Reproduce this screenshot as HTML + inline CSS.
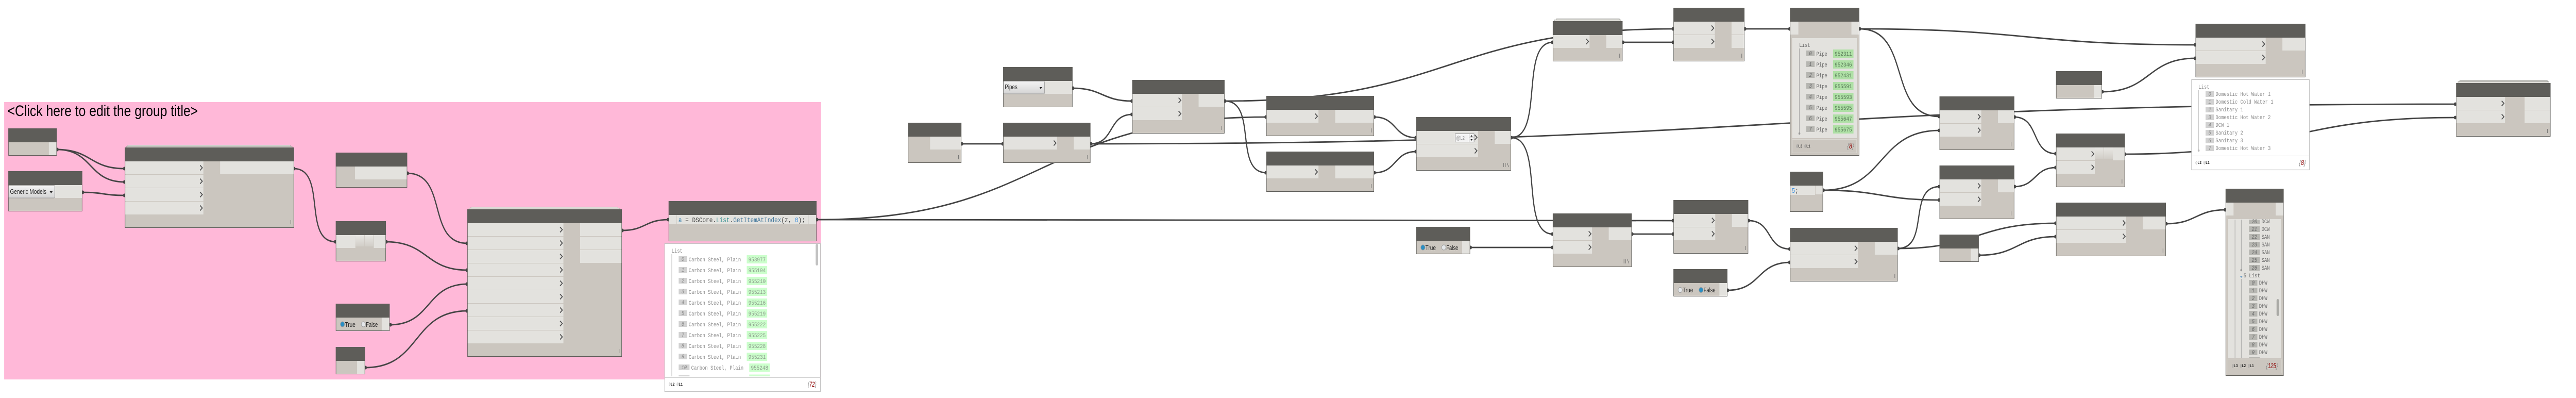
<!DOCTYPE html>
<html><head><meta charset="utf-8"><style>
html,body{margin:0;padding:0;background:#fff;width:100%;height:100%;overflow:hidden}
svg{display:block;width:100vw;height:100vh}
.h{fill:#5e5d59}.b{fill:#cbc6bf;stroke:#5e5d59;stroke-width:1}.l{fill:#e3e2de}
.s{fill:#dcdbd6;stroke:#a5a5a0;stroke-width:1}
.w path{fill:none;stroke:#444;stroke-width:2.8}
.d circle{fill:#444}
.bt{fill:url(#gb)}
text{font-family:"Liberation Sans",sans-serif}
.m{font-family:"Liberation Mono",monospace;font-size:11px;fill:#8a8a8a;white-space:pre}
.m2{font-family:"Liberation Mono",monospace;font-size:11px;fill:#6a6a6a;white-space:pre}
.i{font-family:"Liberation Mono",monospace;font-size:11px;font-style:italic;fill:#888;text-anchor:middle}
.i2{font-family:"Liberation Mono",monospace;font-size:11px;font-style:italic;fill:#666;text-anchor:middle}
.n{font-family:"Liberation Mono",monospace;font-size:11.5px;fill:#8a9a8a}
.n2{font-family:"Liberation Mono",monospace;font-size:11.5px;fill:#557755}
.ib{fill:#d2d2d2}.ib2{fill:#b6b6b1}.g{fill:#ccffcc}.g2{fill:#aee0a5}
.f{font-family:"Liberation Mono",monospace;font-size:8px;font-weight:bold;fill:#222}
.f tspan{fill:#999;font-weight:normal}
.c{font-size:14px;font-style:italic;fill:#888}.c tspan{fill:#8b0000}
.t{font-size:13px;fill:#222}
.code{font-family:"Liberation Mono",monospace;font-size:13.67px;fill:#444;white-space:pre}
</style></head><body>
<svg xmlns="http://www.w3.org/2000/svg" viewBox="0 0 6168 772" preserveAspectRatio="none">
<defs>
<path id="c" d="M-8 -5L-2.500 0L-8 5" fill="none" stroke="#555" stroke-width="2"/>
<path id="la" d="M0 0V8" fill="none" stroke="#666" stroke-width="1"/>
<path id="la3" d="M0 0V8M4 0V8M8 0L12 8" fill="none" stroke="#666" stroke-width="1"/>
<linearGradient id="gb" x1="0" y1="0" x2="0" y2="1"><stop offset="0" stop-color="#e8e7e3"/><stop offset="1" stop-color="#d2cec8"/></linearGradient>
<linearGradient id="gd" x1="0" y1="0" x2="0" y2="1"><stop offset="0" stop-color="#f4f4f4"/><stop offset="1" stop-color="#d4d4d4"/></linearGradient>
</defs>
<rect width="6168" height="772" fill="#fff"/>
<rect x="10" y="198" width="1956" height="538" fill="#ffb8d8"/>
<text x="18" y="225" font-size="30" textLength="456" lengthAdjust="spacingAndGlyphs" fill="#000">&lt;Click here to edit the group title&gt;</text>

<g class="w">
<path d="M136 290C219 290 215 327 298 327"/>
<path d="M136 290C223 290 211 353 298 353"/>
<path d="M197 373C247 373 248 379 298 379"/>
<path d="M703 327C784 327 723 469 804 469"/>
<path d="M975 336C1074 336 1020 472 1119 472"/>
<path d="M924 469C1025 469 1018 524 1119 524"/>
<path d="M934 630C1034 630 1019 551 1119 551"/>
<path d="M875 713C1009 713 985 603 1119 603"/>
<path d="M1489 447C1546 447 1544 426 1601 426"/>
<path d="M1956 426C2503 426 2485 227 3032 227"/>
<path d="M1956 426C2981 426 2982 428 4007 428"/>
<path d="M2302 279H2402"/>
<path d="M2568 171C2640 171 2639 196 2711 196"/>
<path d="M2611 279C2669 279 2653 222 2711 222"/>
<path d="M2611 279C4246 279 4245 202 5880 202"/>
<path d="M2933 196C3475 196 3465 56 4007 56"/>
<path d="M2933 196C3012 196 2953 335 3032 335"/>
<path d="M3291 227C3345 227 3337 267 3391 267"/>
<path d="M3291 335C3345 335 3337 294 3391 294"/>
<path d="M3618 267C3698 267 3638 82 3718 82"/>
<path d="M3618 267C3698 267 3638 454 3718 454"/>
<path d="M3885 82H4007"/>
<path d="M4177 56H4286"/>
<path d="M3521 480H3718"/>
<path d="M3907 454H4007"/>
<path d="M4187 428C4244 428 4229 483 4286 483"/>
<path d="M4137 563C4216 563 4207 509 4286 509"/>
<path d="M4452 56C4855 56 4854 87 5257 87"/>
<path d="M4452 56C4580 56 4516 226 4644 226"/>
<path d="M4365 369C4516 369 4493 253 4644 253"/>
<path d="M4365 369C4505 369 4504 388 4644 388"/>
<path d="M4544 482C4622 482 4566 362 4644 362"/>
<path d="M4544 482C4735 482 4732 433 4923 433"/>
<path d="M4823 227C4884 227 4862 298 4923 298"/>
<path d="M4823 362C4876 362 4870 325 4923 325"/>
<path d="M4739 495C4833 495 4829 459 4923 459"/>
<path d="M5034 178C5150 178 5141 113 5257 113"/>
<path d="M5088 299C5486 299 5482 228 5880 228"/>
<path d="M5187 434C5259 434 5257 407 5329 407"/>
</g>
<g class="d">
<circle cx="137" cy="290" r="3.5"/><circle cx="298" cy="327" r="3.5"/><circle cx="298" cy="353" r="3.5"/><circle cx="198" cy="373" r="3.5"/><circle cx="298" cy="379" r="3.500"/><circle cx="704" cy="327" r="3.5"/>
<circle cx="803" cy="469" r="3.5"/><circle cx="925" cy="469" r="3.5"/><circle cx="976" cy="336" r="3.5"/><circle cx="1118" cy="472" r="3.5"/><circle cx="1118" cy="524" r="3.5"/><circle cx="1118" cy="551" r="3.5"/><circle cx="1118" cy="603" r="3.5"/><circle cx="935" cy="630" r="3.5"/><circle cx="875" cy="713" r="3.5"/><circle cx="1490" cy="447" r="3.5"/><circle cx="1600" cy="426" r="3.5"/><circle cx="1956" cy="426" r="3.5"/>
<circle cx="2303" cy="279" r="3.5"/><circle cx="2401" cy="279" r="3.5"/><circle cx="2569" cy="171" r="3.5"/><circle cx="2710" cy="196" r="3.5"/><circle cx="2710" cy="222" r="3.5"/><circle cx="2612" cy="279" r="3.5"/><circle cx="2933" cy="196" r="3.5"/><circle cx="3031" cy="227" r="3.5"/><circle cx="3031" cy="335" r="3.5"/><circle cx="3291" cy="227" r="3.5"/><circle cx="3291" cy="335" r="3.5"/><circle cx="3390" cy="267" r="3.5"/><circle cx="3390" cy="294" r="3.5"/><circle cx="3619" cy="267" r="3.5"/><circle cx="3717" cy="82" r="3.5"/><circle cx="3717" cy="454" r="3.5"/><circle cx="3717" cy="480" r="3.5"/><circle cx="3521" cy="480" r="3.5"/><circle cx="3886" cy="82" r="3.5"/><circle cx="4006" cy="56" r="3.5"/><circle cx="4006" cy="82" r="3.5"/><circle cx="4178" cy="56" r="3.5"/><circle cx="3908" cy="454" r="3.5"/><circle cx="4006" cy="428" r="3.5"/><circle cx="4006" cy="454" r="3.5"/><circle cx="4187" cy="428" r="3.5"/><circle cx="4137" cy="563" r="3.5"/><circle cx="4285" cy="56" r="3.5"/><circle cx="4285" cy="483" r="3.5"/><circle cx="4285" cy="509" r="3.5"/><circle cx="4453" cy="56" r="3.5"/><circle cx="4366" cy="369" r="3.5"/><circle cx="4545" cy="482" r="3.5"/><circle cx="4643" cy="226" r="3.5"/><circle cx="4643" cy="253" r="3.5"/><circle cx="4643" cy="362" r="3.5"/><circle cx="4643" cy="388" r="3.5"/><circle cx="4824" cy="227" r="3.5"/><circle cx="4824" cy="362" r="3.5"/><circle cx="4739" cy="495" r="3.5"/><circle cx="4922" cy="298" r="3.5"/><circle cx="4922" cy="325" r="3.5"/><circle cx="4922" cy="433" r="3.5"/><circle cx="4922" cy="459" r="3.5"/><circle cx="5034" cy="178" r="3.5"/><circle cx="5088" cy="299" r="3.5"/><circle cx="5187" cy="434" r="3.5"/><circle cx="5256" cy="87" r="3.5"/><circle cx="5256" cy="113" r="3.5"/><circle cx="5328" cy="407" r="3.5"/><circle cx="5879" cy="202" r="3.5"/><circle cx="5879" cy="228" r="3.5"/>
</g>

<!-- A -->
<rect class="b" x="20.5" y="249.500" width="115" height="52"/><rect class="h" x="20" y="249" width="116" height="27"/><rect class="l" x="117" y="276" width="18" height="25"/>
<!-- B -->
<rect class="b" x="20.5" y="332.500" width="176" height="77"/><rect class="h" x="20" y="332" width="177" height="27"/><rect class="l" x="131" y="359" width="65" height="25"/>
<rect x="21" y="360" width="110" height="24" rx="2" fill="url(#gd)" stroke="#999"/><text x="24" y="376" class="t" textLength="87" lengthAdjust="spacingAndGlyphs">Generic Models</text><path d="M119 371h7l-3.500 4z" fill="#222"/>
<!-- C -->
<rect class="s" x="306" y="281.500" width="389" height="6"/><rect class="s" x="302.500" y="284" width="397" height="4"/>
<rect class="b" x="299.500" y="286.500" width="404" height="155"/><rect class="h" x="299" y="286" width="405" height="27"/>
<rect class="l" x="300" y="313" width="187" height="25"/><rect class="l" x="300" y="339" width="187" height="25"/><rect class="l" x="300" y="365" width="187" height="25"/><rect class="l" x="300" y="391" width="187" height="25"/><rect class="l" x="527" y="313" width="176" height="25"/>
<use href="#c" x="487" y="325.500"/><use href="#c" x="487" y="351.500"/><use href="#c" x="487" y="377.500"/><use href="#c" x="487" y="403.500"/><use href="#la" x="696.500" y="427"/>
<!-- N4 -->
<rect class="b" x="804.500" y="429.500" width="119" height="77"/><rect class="h" x="804" y="429" width="120" height="27"/><rect class="l" x="805" y="456" width="46" height="25"/><rect class="bt" x="851" y="456" width="21.500" height="22"/><rect class="bt" x="873.500" y="456" width="20.500" height="22"/><rect class="l" x="895" y="456" width="28" height="25"/>
<!-- N6 -->
<rect class="b" x="804.500" y="296.500" width="170" height="67"/><rect class="h" x="804" y="296" width="171" height="27"/><rect class="l" x="850" y="323" width="124" height="25"/>
<!-- N7 -->
<rect class="b" x="804.500" y="589.500" width="128" height="52"/><rect class="h" x="804" y="589" width="129" height="27"/><rect class="l" x="914" y="616" width="18" height="25"/>
<circle cx="820" cy="629" r="5" fill="#2a8fc4" stroke="#999"/><text x="826" y="634" class="t" textLength="25" lengthAdjust="spacingAndGlyphs">True</text><circle cx="870" cy="629" r="5" fill="#e4e7ea" stroke="#999"/><text x="876" y="634" class="t" textLength="28.500" lengthAdjust="spacingAndGlyphs">False</text>
<!-- N8 -->
<rect class="b" x="804.500" y="673.500" width="69" height="52"/><rect class="h" x="804" y="673" width="70" height="27"/><rect class="l" x="855" y="700" width="18" height="25"/>
<!-- N5 -->
<rect class="s" x="1127.500" y="401.500" width="352" height="6"/><rect class="s" x="1123" y="403.500" width="361" height="4"/>
<rect class="b" x="1119.500" y="406.500" width="369" height="285"/><rect class="h" x="1119" y="406" width="370" height="27"/>
<rect class="l" x="1120" y="433" width="229" height="25"/><rect class="l" x="1120" y="459" width="229" height="25"/><rect class="l" x="1120" y="485" width="229" height="25"/><rect class="l" x="1120" y="511" width="229" height="25"/><rect class="l" x="1120" y="537" width="229" height="25"/><rect class="l" x="1120" y="563" width="229" height="25"/><rect class="l" x="1120" y="589" width="229" height="25"/><rect class="l" x="1120" y="615" width="229" height="25"/><rect class="l" x="1120" y="641" width="229" height="25"/>
<rect class="l" x="1389" y="433" width="99" height="25"/><rect class="l" x="1389" y="459" width="99" height="25"/><rect class="l" x="1389" y="485" width="99" height="25"/>
<use href="#c" x="1349" y="445.500"/><use href="#c" x="1349" y="471.500"/><use href="#c" x="1349" y="497.500"/><use href="#c" x="1349" y="523.500"/><use href="#c" x="1349" y="549.500"/><use href="#c" x="1349" y="575.500"/><use href="#c" x="1349" y="601.500"/><use href="#c" x="1349" y="627.500"/><use href="#c" x="1349" y="653.500"/><use href="#la" x="1482.500" y="677"/>
<!-- H code block -->
<rect class="b" x="1601.500" y="390.500" width="353" height="77"/><rect class="h" x="1601" y="390" width="354" height="27"/><rect class="l" x="1602" y="417" width="352" height="18"/><path d="M1620.500 417V435M1935.500 417V435" stroke="#c8c5be" fill="none"/>
<text x="1624.500" y="431" class="code"><tspan fill="#2b7bac">a</tspan> = DSCore.<tspan fill="#2a8c8c">List</tspan>.<tspan fill="#44789c">GetItemAtIndex</tspan>(z, <tspan fill="#3a8fe0">0</tspan>);</text>
<!-- H preview -->
<rect x="1591.500" y="472.500" width="373" height="287" fill="#fff" stroke="#c4c4c4" stroke-width="1.2"/>
<path d="M1591.500 732.500H1964.500" stroke="#ccc"/>
<rect x="1953" y="473" width="6" height="42" rx="3" fill="#c2c2c2"/>
<text class="m" x="1608" y="490">List</text><path d="M1608.500 493V730" stroke="#bbb"/>
<rect class="ib" x="1625" y="497" width="20" height="11"/><text class="i" x="1635" y="506">0</text><text class="m" x="1649" y="507">Carbon Steel, Plain</text><rect class="g" x="1788" y="495" width="49" height="16"/><text class="n" x="1792" y="507">953977</text>
<rect class="ib" x="1625" y="518" width="20" height="11"/><text class="i" x="1635" y="527">1</text><text class="m" x="1649" y="528">Carbon Steel, Plain</text><rect class="g" x="1788" y="516" width="49" height="16"/><text class="n" x="1792" y="528">955194</text>
<rect class="ib" x="1625" y="539" width="20" height="11"/><text class="i" x="1635" y="548">2</text><text class="m" x="1649" y="549">Carbon Steel, Plain</text><rect class="g" x="1788" y="537" width="49" height="16"/><text class="n" x="1792" y="549">955210</text>
<rect class="ib" x="1625" y="560" width="20" height="11"/><text class="i" x="1635" y="569">3</text><text class="m" x="1649" y="570">Carbon Steel, Plain</text><rect class="g" x="1788" y="558" width="49" height="16"/><text class="n" x="1792" y="570">955213</text>
<rect class="ib" x="1625" y="581" width="20" height="11"/><text class="i" x="1635" y="590">4</text><text class="m" x="1649" y="591">Carbon Steel, Plain</text><rect class="g" x="1788" y="579" width="49" height="16"/><text class="n" x="1792" y="591">955216</text>
<rect class="ib" x="1625" y="602" width="20" height="11"/><text class="i" x="1635" y="611">5</text><text class="m" x="1649" y="612">Carbon Steel, Plain</text><rect class="g" x="1788" y="600" width="49" height="16"/><text class="n" x="1792" y="612">955219</text>
<rect class="ib" x="1625" y="623" width="20" height="11"/><text class="i" x="1635" y="632">6</text><text class="m" x="1649" y="633">Carbon Steel, Plain</text><rect class="g" x="1788" y="621" width="49" height="16"/><text class="n" x="1792" y="633">955222</text>
<rect class="ib" x="1625" y="644" width="20" height="11"/><text class="i" x="1635" y="653">7</text><text class="m" x="1649" y="654">Carbon Steel, Plain</text><rect class="g" x="1788" y="642" width="49" height="16"/><text class="n" x="1792" y="654">955225</text>
<rect class="ib" x="1625" y="665" width="20" height="11"/><text class="i" x="1635" y="674">8</text><text class="m" x="1649" y="675">Carbon Steel, Plain</text><rect class="g" x="1788" y="663" width="49" height="16"/><text class="n" x="1792" y="675">955228</text>
<rect class="ib" x="1625" y="686" width="20" height="11"/><text class="i" x="1635" y="695">9</text><text class="m" x="1649" y="696">Carbon Steel, Plain</text><rect class="g" x="1788" y="684" width="49" height="16"/><text class="n" x="1792" y="696">955231</text>
<rect class="ib" x="1625" y="707" width="26" height="11"/><text class="i" x="1638" y="716">10</text><text class="m" x="1655" y="717">Carbon Steel, Plain</text><rect class="g" x="1794" y="705" width="49" height="16"/><text class="n" x="1798" y="717">955248</text>
<rect class="ib" x="1625" y="728" width="26" height="2"/><rect class="g" x="1794" y="726.500" width="49" height="3.500"/>
<text class="f" x="1601" y="748"><tspan>@</tspan>L2 <tspan>@</tspan>L1</text>
<text class="c" x="1934" y="750" textLength="21" lengthAdjust="spacingAndGlyphs">{<tspan>72</tspan>}</text>
<!-- V -->
<rect class="b" x="2174.500" y="238.500" width="127" height="77"/><rect class="h" x="2174" y="238" width="128" height="27"/><rect class="l" x="2227" y="265" width="74" height="25"/><use href="#la" x="2295" y="301"/>
<!-- Pipes -->
<rect class="b" x="2402.500" y="130.500" width="165" height="77"/><rect class="h" x="2402" y="130" width="166" height="27"/><rect class="l" x="2501" y="157" width="66" height="25"/>
<rect x="2403" y="157.500" width="98" height="24.500" rx="2" fill="url(#gd)" stroke="#999"/><text x="2406" y="173" class="t" textLength="30" lengthAdjust="spacingAndGlyphs">Pipes</text><path d="M2489 169h6l-3 4z" fill="#222"/>
<!-- R -->
<rect class="b" x="2402.500" y="238.500" width="208" height="77"/><rect class="h" x="2402" y="238" width="209" height="27"/><rect class="l" x="2403" y="265" width="128" height="25"/><rect class="l" x="2571" y="265" width="39" height="25"/><use href="#c" x="2531" y="277.500"/><use href="#la" x="2604" y="301"/>
<!-- M -->
<rect class="b" x="2711.500" y="155.500" width="220" height="103"/><rect class="h" x="2711" y="155" width="221" height="27"/><rect class="l" x="2712" y="182" width="118" height="25"/><rect class="l" x="2712" y="208" width="118" height="25"/><rect class="l" x="2870" y="182" width="61" height="25"/><use href="#c" x="2830" y="194.500"/><use href="#c" x="2830" y="220.500"/><use href="#la" x="2925" y="244"/>
<!-- P -->
<rect class="b" x="3032.500" y="186.500" width="257" height="77"/><rect class="h" x="3032" y="186" width="258" height="27"/><rect class="l" x="3033" y="213" width="124" height="25"/><rect class="l" x="3197" y="213" width="92" height="25"/><use href="#c" x="3157" y="225.500"/><use href="#la" x="3283.500" y="249"/>
<!-- Q -->
<rect class="b" x="3032.500" y="294.500" width="257" height="77"/><rect class="h" x="3032" y="294" width="258" height="27"/><rect class="l" x="3033" y="321" width="124" height="25"/><rect class="l" x="3197" y="321" width="92" height="25"/><use href="#c" x="3157" y="333.500"/><use href="#la" x="3283.500" y="357"/>
<!-- S -->
<rect class="b" x="3391.500" y="227.500" width="226" height="103"/><rect class="h" x="3391" y="227" width="227" height="27"/><rect class="l" x="3392" y="254" width="147" height="25"/><rect class="l" x="3392" y="280" width="147" height="25"/><rect class="l" x="3579" y="254" width="38" height="25"/>
<rect x="3484.500" y="259.500" width="45" height="16" fill="#f2f2f2" stroke="#888"/><text x="3487" y="271" font-size="10" fill="#888" textLength="20" lengthAdjust="spacingAndGlyphs">@L2</text><path d="M3517.500 259.500V275.500M3517.500 267.500H3529.500" stroke="#888" fill="none"/><path d="M3521 265h5l-2.500-3zM3521 270h5l-2.500 3z" fill="#222"/>
<use href="#c" x="3539" y="266.500"/><use href="#c" x="3539" y="292.500"/><use href="#la3" x="3600.500" y="316"/>
<!-- BB -->
<rect class="b" x="3391.500" y="440.500" width="128" height="52"/><rect class="h" x="3391" y="440" width="129" height="27"/><rect class="l" x="3501" y="467" width="18" height="25"/>
<circle cx="3407" cy="480" r="5" fill="#2a8fc4" stroke="#999"/><text x="3413" y="485" class="t" textLength="25" lengthAdjust="spacingAndGlyphs">True</text><circle cx="3457" cy="480" r="5" fill="#e4e7ea" stroke="#999"/><text x="3463" y="485" class="t" textLength="28.500" lengthAdjust="spacingAndGlyphs">False</text>
<!-- T1 -->
<rect class="s" x="3726.500" y="36.500" width="151" height="6"/><rect class="s" x="3722" y="38.500" width="159" height="4"/>
<rect class="b" x="3718.500" y="41.500" width="166" height="77"/><rect class="h" x="3718" y="41" width="167" height="27"/><rect class="l" x="3719" y="68" width="87" height="25"/><rect class="l" x="3846" y="68" width="38" height="25"/><use href="#c" x="3806" y="80.500"/><use href="#la" x="3877.500" y="104"/>
<!-- W -->
<rect class="b" x="3718.500" y="414.500" width="188" height="103"/><rect class="h" x="3718" y="414" width="189" height="27"/><rect class="l" x="3719" y="441" width="93" height="25"/><rect class="l" x="3719" y="467" width="93" height="25"/><rect class="l" x="3852" y="441" width="54" height="25"/><use href="#c" x="3812" y="453.500"/><use href="#c" x="3812" y="479.500"/><use href="#la3" x="3888.500" y="503"/>
<!-- K -->
<rect class="b" x="4007.500" y="15.500" width="169" height="103"/><rect class="h" x="4007" y="15" width="170" height="27"/><rect class="l" x="4008" y="42" width="98" height="25"/><rect class="l" x="4008" y="68" width="98" height="25"/><rect class="l" x="4146" y="42" width="30" height="25"/><rect class="l" x="4146" y="68" width="30" height="25"/><use href="#c" x="4106" y="54.500"/><use href="#c" x="4106" y="80.500"/><use href="#la" x="4170.500" y="104"/>
<!-- BA -->
<rect class="b" x="4007.500" y="388.500" width="178" height="103"/><rect class="h" x="4007" y="388" width="179" height="27"/><rect class="l" x="4008" y="415" width="99" height="25"/><rect class="l" x="4008" y="441" width="99" height="25"/><rect class="l" x="4147" y="415" width="38" height="25"/><use href="#c" x="4107" y="427.500"/><use href="#c" x="4107" y="453.500"/><use href="#la" x="4179.500" y="477"/>
<!-- BC -->
<rect class="b" x="4007.500" y="522.500" width="128" height="52"/><rect class="h" x="4007" y="522" width="129" height="27"/><rect class="l" x="4117" y="549" width="18" height="25"/>
<circle cx="4023" cy="562.500" r="5" fill="#e4e7ea" stroke="#999"/><text x="4029" y="567" class="t" textLength="25" lengthAdjust="spacingAndGlyphs">True</text><circle cx="4073" cy="562.500" r="5" fill="#2a8fc4" stroke="#999"/><text x="4079" y="567" class="t" textLength="28.500" lengthAdjust="spacingAndGlyphs">False</text>
<!-- T watch -->
<rect class="b" x="4286.500" y="15.500" width="165" height="286"/><rect class="h" x="4286" y="15" width="166" height="27"/><rect class="l" x="4287" y="42" width="19" height="25"/><rect class="l" x="4433" y="42" width="18" height="25"/>
<rect class="l" x="4291" y="74" width="155" height="194"/><rect x="4291.500" y="270.500" width="154" height="26" fill="none" stroke="#dad8d2"/>
<text class="m2" x="4308" y="91">List</text><path d="M4308.500 94V259" stroke="#999"/><circle cx="4308.500" cy="259" r="2.200" fill="#999"/>
<rect class="ib2" x="4325" y="98" width="20" height="11"/><text class="i2" x="4335" y="107">0</text><text class="m2" x="4349" y="108">Pipe</text><rect class="g2" x="4389" y="96" width="49" height="16"/><text class="n2" x="4393" y="108">952311</text>
<rect class="ib2" x="4325" y="119" width="20" height="11"/><text class="i2" x="4335" y="128">1</text><text class="m2" x="4349" y="129">Pipe</text><rect class="g2" x="4389" y="117" width="49" height="16"/><text class="n2" x="4393" y="129">952346</text>
<rect class="ib2" x="4325" y="140" width="20" height="11"/><text class="i2" x="4335" y="149">2</text><text class="m2" x="4349" y="150">Pipe</text><rect class="g2" x="4389" y="138" width="49" height="16"/><text class="n2" x="4393" y="150">952431</text>
<rect class="ib2" x="4325" y="161" width="20" height="11"/><text class="i2" x="4335" y="170">3</text><text class="m2" x="4349" y="171">Pipe</text><rect class="g2" x="4389" y="159" width="49" height="16"/><text class="n2" x="4393" y="171">955591</text>
<rect class="ib2" x="4325" y="182" width="20" height="11"/><text class="i2" x="4335" y="191">4</text><text class="m2" x="4349" y="192">Pipe</text><rect class="g2" x="4389" y="180" width="49" height="16"/><text class="n2" x="4393" y="192">955593</text>
<rect class="ib2" x="4325" y="203" width="20" height="11"/><text class="i2" x="4335" y="212">5</text><text class="m2" x="4349" y="213">Pipe</text><rect class="g2" x="4389" y="201" width="49" height="16"/><text class="n2" x="4393" y="213">955595</text>
<rect class="ib2" x="4325" y="224" width="20" height="11"/><text class="i2" x="4335" y="233">6</text><text class="m2" x="4349" y="234">Pipe</text><rect class="g2" x="4389" y="222" width="49" height="16"/><text class="n2" x="4393" y="234">955647</text>
<rect class="ib2" x="4325" y="245" width="20" height="11"/><text class="i2" x="4335" y="254">7</text><text class="m2" x="4349" y="255">Pipe</text><rect class="g2" x="4389" y="243" width="49" height="16"/><text class="n2" x="4393" y="255">955675</text>
<text class="f" x="4301" y="286"><tspan>@</tspan>L2 <tspan>@</tspan>L1</text>
<text class="c" x="4423" y="288" textLength="16" lengthAdjust="spacingAndGlyphs">{<tspan>8</tspan>}</text>
<!-- AC -->
<rect class="b" x="4286.500" y="333.500" width="78" height="77"/><rect class="h" x="4286" y="333" width="79" height="27"/><rect class="l" x="4287" y="360" width="59" height="18"/><rect class="l" x="4347" y="360" width="17" height="17"/>
<text x="4290" y="374" class="code"><tspan fill="#3a8fe0">5</tspan>;</text>
<!-- AE -->
<rect class="b" x="4286.500" y="442.500" width="257" height="103"/><rect class="h" x="4286" y="442" width="258" height="27"/><rect class="l" x="4287" y="469" width="162" height="25"/><rect class="l" x="4287" y="495" width="162" height="25"/><rect class="l" x="4489" y="469" width="54" height="25"/><use href="#c" x="4449" y="481.500"/><use href="#c" x="4449" y="507.500"/><use href="#la" x="4537" y="531"/>
<!-- U -->
<rect class="b" x="4644.500" y="187.500" width="178" height="103"/><rect class="h" x="4644" y="187" width="179" height="27"/><rect class="l" x="4645" y="214" width="99" height="25"/><rect class="l" x="4645" y="240" width="99" height="25"/><rect class="l" x="4784" y="214" width="38" height="25"/><use href="#c" x="4744" y="226.500"/><use href="#c" x="4744" y="252.500"/><use href="#la" x="4815.500" y="276"/>
<!-- AD -->
<rect class="b" x="4644.500" y="321.500" width="178" height="103"/><rect class="h" x="4644" y="321" width="179" height="27"/><rect class="l" x="4645" y="348" width="99" height="25"/><rect class="l" x="4645" y="374" width="99" height="25"/><rect class="l" x="4784" y="348" width="38" height="25"/><use href="#c" x="4744" y="360.500"/><use href="#c" x="4744" y="386.500"/><use href="#la" x="4815.500" y="410"/>
<!-- AF -->
<rect class="b" x="4644.500" y="455.500" width="93" height="52"/><rect class="h" x="4644" y="455" width="94" height="27"/><rect class="l" x="4719" y="482" width="18" height="25"/>
<!-- AB -->
<rect class="b" x="4923.500" y="138.500" width="109" height="52"/><rect class="h" x="4923" y="138" width="110" height="27"/><rect class="l" x="5014" y="165" width="18" height="25"/>
<!-- Z -->
<rect class="b" x="4923.500" y="259.500" width="164" height="103"/><rect class="h" x="4923" y="259" width="165" height="27"/><rect class="l" x="4924" y="286" width="92" height="25"/><rect class="l" x="4924" y="312" width="92" height="25"/><rect class="bt" x="5016" y="286" width="21" height="22"/><rect class="bt" x="5038" y="286" width="21" height="22"/><rect class="l" x="5059" y="286" width="28" height="25"/><use href="#c" x="5016" y="298.500"/><use href="#c" x="5016" y="324.500"/><use href="#la" x="5081" y="348"/>
<!-- AG -->
<rect class="b" x="4923.500" y="393.500" width="262" height="103"/><rect class="h" x="4923" y="393" width="263" height="27"/><rect class="l" x="4924" y="420" width="167" height="25"/><rect class="l" x="4924" y="446" width="167" height="25"/><rect class="l" x="5131" y="420" width="54" height="25"/><use href="#c" x="5091" y="432.500"/><use href="#c" x="5091" y="458.500"/><use href="#la" x="5179" y="482"/>
<!-- Y -->
<rect class="b" x="5257.500" y="46.500" width="262" height="103"/><rect class="h" x="5257" y="46" width="263" height="27"/><rect class="l" x="5258" y="73" width="167" height="25"/><rect class="l" x="5258" y="99" width="167" height="25"/><rect class="l" x="5465" y="73" width="54" height="25"/><use href="#c" x="5425" y="85.500"/><use href="#c" x="5425" y="111.500"/><use href="#la" x="5512.500" y="135"/>
<!-- Y preview -->
<rect x="5247.500" y="154.500" width="282" height="175" fill="#fff" stroke="#bdbdbd" stroke-width="1.2"/><path d="M5247.500 302.500H5529.500" stroke="#ccc"/>
<text class="m" x="5264" y="172">List</text><path d="M5264.500 175V292" stroke="#bbb"/><circle cx="5264.500" cy="292" r="2.200" fill="#bbb"/>
<rect class="ib" x="5281" y="177" width="20" height="11"/><text class="i" x="5291" y="186">0</text><text class="m" x="5305" y="186">Domestic Hot Water 1</text>
<rect class="ib" x="5281" y="192" width="20" height="11"/><text class="i" x="5291" y="201">1</text><text class="m" x="5305" y="201">Domestic Cold Water 1</text>
<rect class="ib" x="5281" y="207" width="20" height="11"/><text class="i" x="5291" y="216">2</text><text class="m" x="5305" y="216">Sanitary 1</text>
<rect class="ib" x="5281" y="222" width="20" height="11"/><text class="i" x="5291" y="231">3</text><text class="m" x="5305" y="231">Domestic Hot Water 2</text>
<rect class="ib" x="5281" y="237" width="20" height="11"/><text class="i" x="5291" y="246">4</text><text class="m" x="5305" y="246">DCW 1</text>
<rect class="ib" x="5281" y="252" width="20" height="11"/><text class="i" x="5291" y="261">5</text><text class="m" x="5305" y="261">Sanitary 2</text>
<rect class="ib" x="5281" y="267" width="20" height="11"/><text class="i" x="5291" y="276">6</text><text class="m" x="5305" y="276">Sanitary 3</text>
<rect class="ib" x="5281" y="282" width="20" height="11"/><text class="i" x="5291" y="291">7</text><text class="m" x="5305" y="291">Domestic Hot Water 3</text>
<text class="f" x="5257" y="318"><tspan>@</tspan>L2 <tspan>@</tspan>L1</text>
<text class="c" x="5505" y="320" textLength="16" lengthAdjust="spacingAndGlyphs">{<tspan>8</tspan>}</text>
<!-- AH watch -->
<rect class="b" x="5329.500" y="366.500" width="138" height="362"/><rect class="h" x="5329" y="366" width="139" height="27"/><rect class="l" x="5330" y="393" width="18" height="25"/><rect class="l" x="5449" y="393" width="18" height="25"/>
<rect class="l" x="5335" y="425" width="127" height="270"/><rect x="5334.500" y="696.500" width="128" height="27" fill="none" stroke="#dad8d2"/>
<path d="M5351.500 426V694M5366.500 426V524M5366.500 541V694" stroke="#999" fill="none"/><circle cx="5366.500" cy="524" r="2.300" fill="#999"/>
<rect class="ib2" x="5385" y="426" width="26" height="8"/><text class="i2" x="5398" y="433">20</text><text class="m2" x="5415" y="433">DCW</text><rect x="5380" y="418" width="50" height="7" fill="#cbc6bf"/>
<rect class="ib2" x="5385" y="439" width="26" height="11"/><text class="i2" x="5398" y="448">21</text><text class="m2" x="5415" y="448">DCW</text>
<rect class="ib2" x="5385" y="454" width="26" height="11"/><text class="i2" x="5398" y="463">22</text><text class="m2" x="5415" y="463">SAN</text>
<rect class="ib2" x="5385" y="469" width="26" height="11"/><text class="i2" x="5398" y="478">23</text><text class="m2" x="5415" y="478">SAN</text>
<rect class="ib2" x="5385" y="484" width="26" height="11"/><text class="i2" x="5398" y="493">24</text><text class="m2" x="5415" y="493">SAN</text>
<rect class="ib2" x="5385" y="499" width="26" height="11"/><text class="i2" x="5398" y="508">25</text><text class="m2" x="5415" y="508">SAN</text>
<rect class="ib2" x="5385" y="514" width="26" height="11"/><text class="i2" x="5398" y="523">26</text><text class="m2" x="5415" y="523">SAN</text>
<path d="M5363 535h7l-3.500 4z" fill="#6f9fc6"/><text class="m2" x="5372" y="538">5 List</text>
<rect class="ib2" x="5385" y="543" width="20" height="11"/><text class="i2" x="5395" y="552">0</text><text class="m2" x="5409" y="552">DHW</text>
<rect class="ib2" x="5385" y="558" width="20" height="11"/><text class="i2" x="5395" y="567">1</text><text class="m2" x="5409" y="567">DHW</text>
<rect class="ib2" x="5385" y="573" width="20" height="11"/><text class="i2" x="5395" y="582">2</text><text class="m2" x="5409" y="582">DHW</text>
<rect class="ib2" x="5385" y="588" width="20" height="11"/><text class="i2" x="5395" y="597">3</text><text class="m2" x="5409" y="597">DHW</text>
<rect class="ib2" x="5385" y="603" width="20" height="11"/><text class="i2" x="5395" y="612">4</text><text class="m2" x="5409" y="612">DHW</text>
<rect class="ib2" x="5385" y="618" width="20" height="11"/><text class="i2" x="5395" y="627">5</text><text class="m2" x="5409" y="627">DHW</text>
<rect class="ib2" x="5385" y="633" width="20" height="11"/><text class="i2" x="5395" y="642">6</text><text class="m2" x="5409" y="642">DHW</text>
<rect class="ib2" x="5385" y="648" width="20" height="11"/><text class="i2" x="5395" y="657">7</text><text class="m2" x="5409" y="657">DHW</text>
<rect class="ib2" x="5385" y="663" width="20" height="11"/><text class="i2" x="5395" y="672">8</text><text class="m2" x="5409" y="672">DHW</text>
<rect class="ib2" x="5385" y="678" width="20" height="11"/><text class="i2" x="5395" y="687">9</text><text class="m2" x="5409" y="687">DHW</text>
<path d="M5385 693.500H5411" stroke="#b6b6b1"/>
<rect x="5451" y="580" width="6" height="33" rx="3" fill="#a9a9a5"/>
<text class="f" x="5344" y="712"><tspan>@</tspan>L3 <tspan>@</tspan>L2 <tspan>@</tspan>L1</text>
<text class="c" x="5426" y="714" textLength="28" lengthAdjust="spacingAndGlyphs">{<tspan>125</tspan>}</text>
<!-- AA -->
<rect class="s" x="5889.500" y="156.500" width="210" height="6"/><rect class="s" x="5885.500" y="158.500" width="218" height="4"/>
<rect class="b" x="5881.500" y="161.500" width="225" height="103"/><rect class="h" x="5881" y="161" width="226" height="27"/><rect class="l" x="5882" y="188" width="116" height="25"/><rect class="l" x="5882" y="214" width="116" height="25"/><rect class="l" x="6045" y="188" width="61" height="25"/><rect class="l" x="6045" y="214" width="61" height="25"/><use href="#c" x="5998" y="200.500"/><use href="#c" x="5998" y="226.500"/><use href="#la" x="6099.500" y="250"/>
</svg>
</body></html>
